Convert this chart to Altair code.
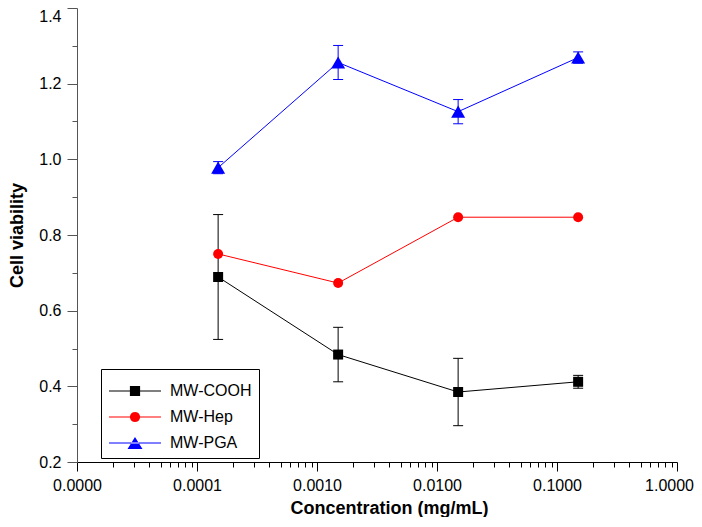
import math
import altair as alt
import pandas as pd

# ---- data ----
series_names = ["MW-COOH", "MW-Hep", "MW-PGA"]
series_colors = ["#000000", "#ff0000", "#0000ff"]
concentration = [0.00015, 0.0015, 0.015, 0.15]
cooh_mean = [0.689, 0.484, 0.385, 0.412]
cooh_sd = [0.165, 0.072, 0.089, 0.017]
hep_mean = [0.750, 0.673, 0.847, 0.847]
hep_sd = [0.0, 0.0, 0.0, 0.0]
pga_mean = [0.978, 1.256, 1.126, 1.269]
pga_sd = [0.016, 0.045, 0.032, 0.015]

x_major = [1e-5, 1e-4, 1e-3, 1e-2, 1e-1, 1.0]
x_minor = [k * 10.0 ** e for e in range(-5, 0) for k in range(2, 10)]
y_major = [0.2, 0.4, 0.6, 0.8, 1.0, 1.2, 1.4]
y_minor = [0.3, 0.5, 0.7, 0.9, 1.1, 1.3]

rows = []
for name, means, sds in zip(series_names, [cooh_mean, hep_mean, pga_mean], [cooh_sd, hep_sd, pga_sd]):
    for c, m, s in zip(concentration, means, sds):
        rows.append({"series": name, "conc": c, "value": m, "lo": m - s, "hi": m + s, "sd": s})
df = pd.DataFrame(rows)

FONT = "Liberation Sans"
xscale = alt.Scale(type="log", domain=[1e-5, 1.0], nice=False)
yscale = alt.Scale(domain=[0.2, 1.4], nice=False, zero=False)
# data-driven (alphabetical) domain, same order as series_names
cscale = alt.Scale(range=series_colors)

x_major_axis = alt.Axis(
    values=x_major, format=".4f", title="Concentration (mg/mL)", orient="bottom",
    labelFontSize=16, labelFont=FONT, labelColor="#000", labelPadding=6,
    labelOffset={"condition": {"test": "datum.value > 0.5", "value": -8}, "value": 0},
    labelFlush=False, labelOverlap=False, labelBound=False,
    tickSize=9, tickColor="#000", domainColor="#000", grid=False,
    titleFont=FONT, titleFontSize=18, titleFontWeight="bold", titleColor="#000",
    titleX=312, titleY=37,
)
x_minor_axis = alt.Axis(
    values=x_minor, labels=False, title=None, orient="bottom", domain=False,
    tickSize=5, tickColor="#000", grid=False,
)
y_major_axis = alt.Axis(
    values=y_major, format=".1f", title="Cell viability", orient="left",
    labelFontSize=16, labelFont=FONT, labelColor="#000", labelPadding=6,
    labelBaseline={"condition": {"test": "datum.value > 1.39", "value": "top"}, "value": "middle"},
    labelFlush=False, labelOverlap=False, labelBound=False,
    tickSize=10, tickColor="#555", domainColor="#555", grid=False,
    titleFont=FONT, titleFontSize=18, titleFontWeight="bold", titleColor="#000",
    titleX=-51, titleBaseline="bottom",
)
y_minor_axis = alt.Axis(
    values=y_minor, labels=False, title=None, orient="left", domain=False,
    tickSize=5, tickColor="#555", grid=False,
)

base = alt.Chart(df)
err = base.transform_filter("datum.sd > 0")

rules = err.mark_rule(strokeWidth=1).encode(
    x=alt.X("conc:Q", scale=xscale, axis=x_major_axis),
    y=alt.Y("lo:Q", scale=yscale, axis=y_major_axis),
    y2="hi:Q",
    color=alt.Color("series:N", scale=cscale, legend=None),
)
caps_lo = err.mark_tick(orient="horizontal", size=10, thickness=1, opacity=1).encode(
    x=alt.X("conc:Q", scale=xscale, axis=None),
    y=alt.Y("lo:Q", scale=yscale, axis=None),
    color=alt.Color("series:N", scale=cscale, legend=None),
)
caps_hi = err.mark_tick(orient="horizontal", size=10, thickness=1, opacity=1).encode(
    x=alt.X("conc:Q", scale=xscale, axis=None),
    y=alt.Y("hi:Q", scale=yscale, axis=None),
    color=alt.Color("series:N", scale=cscale, legend=None),
)
lines = base.mark_line(strokeWidth=1).encode(
    x=alt.X("conc:Q", scale=xscale, axis=None),
    y=alt.Y("value:Q", scale=yscale, axis=None),
    color=alt.Color("series:N", scale=cscale, legend=None),
    detail="series:N",
)

def pts(name, shape, size):
    return base.transform_filter(alt.datum.series == name).mark_point(
        shape=shape, filled=True, size=size, opacity=1
    ).encode(
        x=alt.X("conc:Q", scale=xscale, axis=None),
        y=alt.Y("value:Q", scale=yscale, axis=None),
        color=alt.Color("series:N", scale=cscale, legend=None),
    )

p1 = pts("MW-COOH", "square", 100)
p2 = pts("MW-Hep", "circle", 100)
p3 = pts("MW-PGA", "triangle-up", 196)

# legend glyphs: a thin bar (the line) plus the marker, all filled
bar = "M-4.333,-0.09H4.333V0.09H-4.333Z"
circ = "M" + "L".join(
    f"{0.85 * math.cos(2 * math.pi * i / 20):.3f},{0.85 * math.sin(2 * math.pi * i / 20):.3f}" for i in range(20)
) + "Z"
legend_paths = [
    bar + "M-0.85,-0.85H0.85V0.85H-0.85Z",
    bar + circ,
    bar + "M0,-1L-1.25,1L1.25,1Z",
]
leg = alt.Legend(
    title=" ", titleFontSize=2, titlePadding=5,
    orient="none", legendX=24, legendY=361,
    strokeColor="#000", fillColor="#fff", padding=7, cornerRadius=0,
    labelFont=FONT, labelFontSize=16, labelColor="#000",
    symbolSize=144, symbolStrokeWidth=0, symbolOffset=19, labelOffset=27,
    symbolOpacity=1, rowPadding=10,
)
legend_layer = base.mark_point(filled=True, opacity=0).encode(
    x=alt.X("conc:Q", scale=xscale, axis=x_minor_axis),
    y=alt.Y("value:Q", scale=yscale, axis=y_minor_axis),
    fill=alt.Fill("series:N", scale=alt.Scale(domain=series_names, range=series_colors), legend=leg),
    shape=alt.Shape("series:N", scale=alt.Scale(domain=series_names, range=legend_paths), legend=leg),
)

chart = alt.layer(rules, caps_lo, caps_hi, lines, p1, p2, p3, legend_layer).resolve_axis(
    x="independent", y="independent"
).properties(
    width=600, height=454,
    autosize=alt.AutoSizeParams(type="none"),
    padding={"left": 69, "right": 17, "top": 0, "bottom": 55},
).configure_view(stroke=None)

chart.save("out.html", embed_options={"renderer": "svg", "actions": False})
